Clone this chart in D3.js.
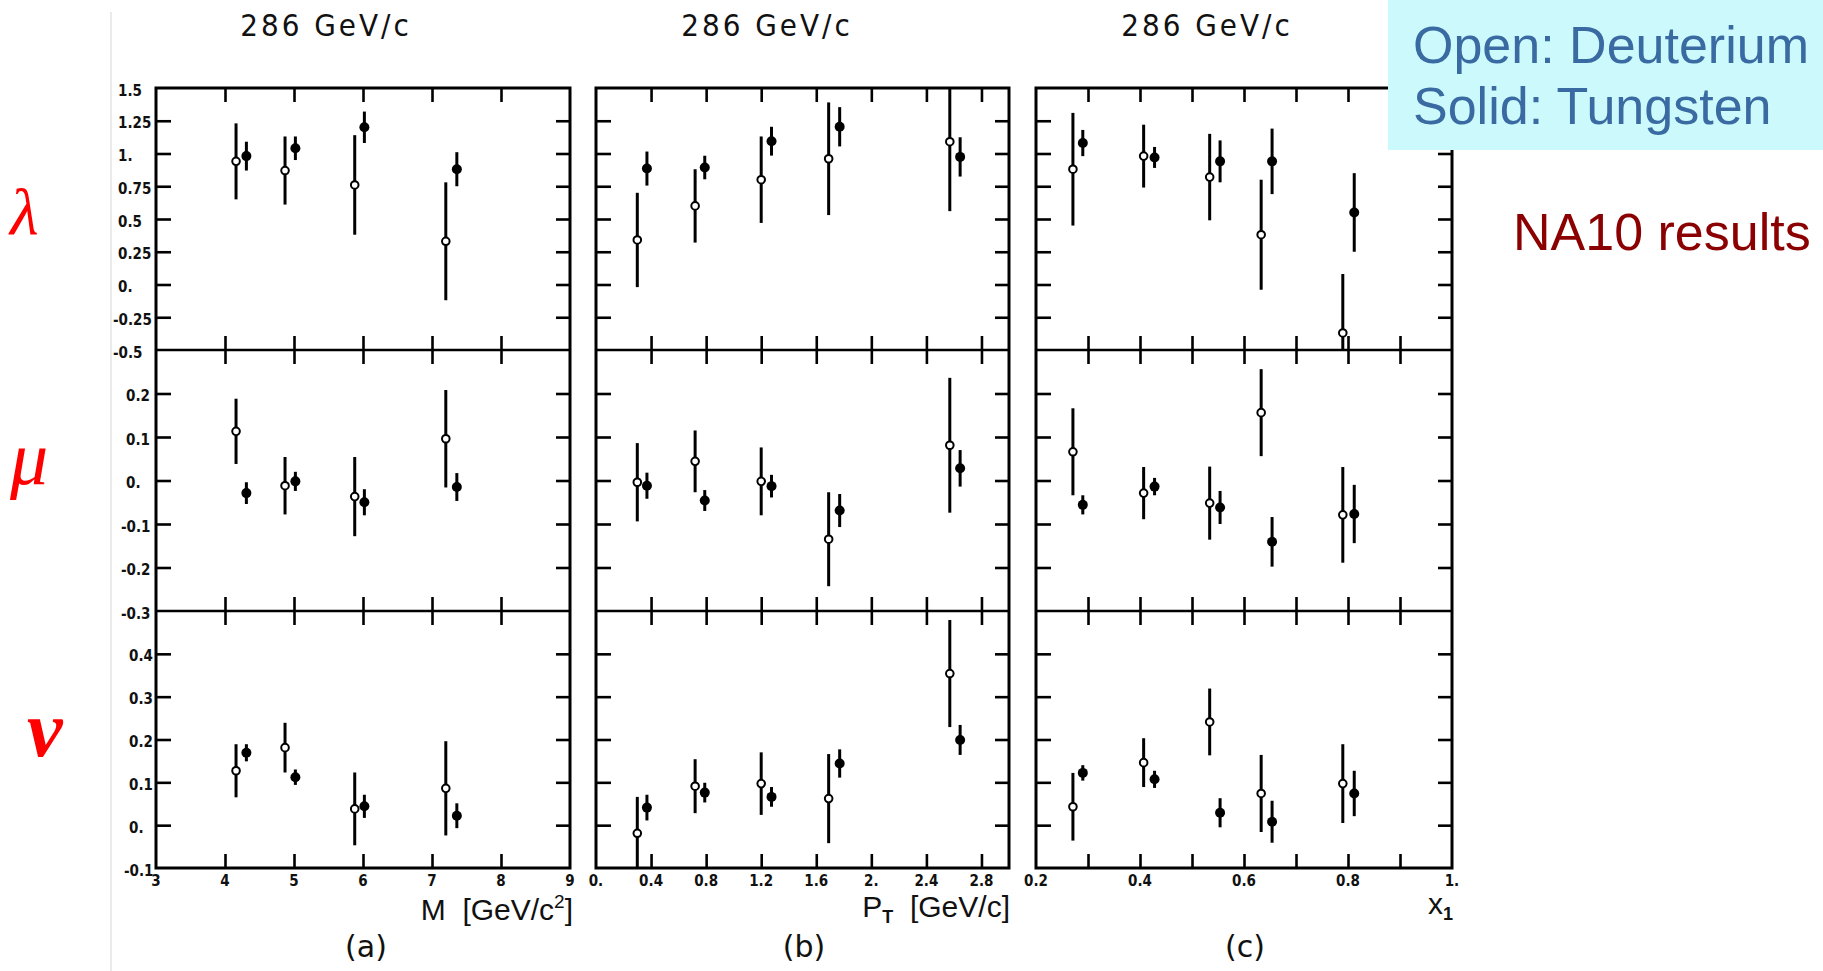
<!DOCTYPE html>
<html>
<head>
<meta charset="utf-8">
<script src="https://cdn.jsdelivr.net/npm/d3@7"></script>
<style>
  html, body { margin: 0; padding: 0; background: #fff; }
  svg { display: block; }
  .tick line { stroke: #000; stroke-width: 2.6; }
  .cond { font-family: "Liberation Sans Narrow", "DejaVu Sans Condensed", "Roboto Condensed", sans-serif; font-stretch: condensed; }
</style>
</head>
<body>
<svg id="chart" width="1823" height="971"></svg>
<script>
// ---------------- DATA ----------------
const panelTitles = ["286 GeV/c", "286 GeV/c", "286 GeV/c"];
const panelLetters = ["(a)", "(b)", "(c)"];
const rowSymbols = ["λ", "μ", "ν"];

// x positions (open = deuterium, solid = tungsten)
const mOpenX  = [4.16, 4.87, 5.88, 7.20];
const mSolidX = [4.31, 5.02, 6.02, 7.36];
const ptOpenX  = [0.30, 0.72, 1.20, 1.69, 2.57];
const ptSolidX = [0.37, 0.79, 1.275, 1.77, 2.645];
const x1OpenX  = [0.271, 0.407, 0.534, 0.633, 0.790];
const x1SolidX = [0.290, 0.428, 0.554, 0.654, 0.812];

// lambda
const lambdaM_D    = [0.94, 0.87, 0.76, 0.33];
const lambdaM_Derr = [0.29, 0.26, 0.38, 0.45];
const lambdaM_W    = [0.98, 1.04, 1.20, 0.88];
const lambdaM_Werr = [0.11, 0.09, 0.12, 0.13];
const lambdaPT_D    = [0.34, 0.60, 0.80, 0.96, 1.09];
const lambdaPT_Derr = [0.36, 0.28, 0.33, 0.43, 0.53];
const lambdaPT_W    = [0.885, 0.893, 1.094, 1.204, 0.974];
const lambdaPT_Werr = [0.13, 0.09, 0.11, 0.15, 0.15];
const lambdaX1_D    = [0.88, 0.98, 0.82, 0.38, -0.37];
const lambdaX1_Derr = [0.43, 0.24, 0.33, 0.42, 0.45];
const lambdaX1_W    = [1.08, 0.97, 0.94, 0.94, 0.55];
const lambdaX1_Werr = [0.10, 0.08, 0.16, 0.25, 0.30];

// mu
const muM_D    = [0.113, -0.012, -0.037, 0.096];
const muM_Derr = [0.075, 0.066, 0.091, 0.112];
const muM_W    = [-0.029, -0.002, -0.050, -0.015];
const muM_Werr = [0.025, 0.022, 0.030, 0.032];
const muPT_D    = [-0.004, 0.044, -0.002, -0.135, 0.081];
const muPT_Derr = [0.090, 0.071, 0.078, 0.108, 0.155];
const muPT_W    = [-0.012, -0.046, -0.013, -0.069, 0.028];
const muPT_Werr = [0.030, 0.024, 0.026, 0.038, 0.042];
const muX1_D    = [0.066, -0.029, -0.052, 0.156, -0.079];
const muX1_Derr = [0.100, 0.060, 0.084, 0.100, 0.110];
const muX1_W    = [-0.056, -0.014, -0.062, -0.141, -0.077];
const muX1_Werr = [0.022, 0.020, 0.038, 0.057, 0.067];

// nu
const nuM_D    = [0.127, 0.181, 0.038, 0.086];
const nuM_Derr = [0.062, 0.058, 0.085, 0.110];
const nuM_W    = [0.169, 0.112, 0.044, 0.022];
const nuM_Werr = [0.020, 0.018, 0.027, 0.029];
const nuPT_D    = [-0.019, 0.091, 0.097, 0.062, 0.354];
const nuPT_Derr = [0.085, 0.063, 0.073, 0.104, 0.125];
const nuPT_W    = [0.041, 0.076, 0.066, 0.144, 0.199];
const nuPT_Werr = [0.030, 0.023, 0.023, 0.033, 0.035];
const nuX1_D    = [0.043, 0.146, 0.241, 0.074, 0.097];
const nuX1_Derr = [0.079, 0.057, 0.078, 0.090, 0.092];
const nuX1_W    = [0.122, 0.107, 0.029, 0.008, 0.074];
const nuX1_Werr = [0.018, 0.020, 0.034, 0.049, 0.053];

// axes
const xDomains = [[3, 9], [0, 3.0], [0.2, 1.0]];
const xTickValues = [[4, 5, 6, 7, 8], [0.4, 0.8, 1.2, 1.6, 2.0, 2.4, 2.8], [0.3, 0.4, 0.5, 0.6, 0.7, 0.8, 0.9]];
const xLabelValues = [[3, 4, 5, 6, 7, 8, 9], [0, 0.4, 0.8, 1.2, 1.6, 2.0, 2.4, 2.8], [0.2, 0.4, 0.6, 0.8, 1.0]];
const xLabelTexts = [["3", "4", "5", "6", "7", "8", "9"], ["0.", "0.4", "0.8", "1.2", "1.6", "2.", "2.4", "2.8"], ["0.2", "0.4", "0.6", "0.8", "1."]];

const yDomains = [[-0.5, 1.5], [-0.3, 0.3], [-0.1, 0.5]];
const yTickValues = [[-0.25, 0, 0.25, 0.5, 0.75, 1.0, 1.25], [-0.2, -0.1, 0, 0.1, 0.2], [0, 0.1, 0.2, 0.3, 0.4]];
const yLabelValues = [[1.5, 1.25, 1.0, 0.75, 0.5, 0.25, 0, -0.25, -0.5], [0.2, 0.1, 0, -0.1, -0.2, -0.3], [0.4, 0.3, 0.2, 0.1, 0, -0.1]];
const yLabelTexts = [["1.5", "1.25", "1.", "0.75", "0.5", "0.25", "0.", "-0.25", "-0.5"], ["0.2", "0.1", "0.", "-0.1", "-0.2", "-0.3"], ["0.4", "0.3", "0.2", "0.1", "0.", "-0.1"]];

const legendLines = ["Open: Deuterium", "Solid: Tungsten"];
const noteText = "NA10 results";

// ---------------- LAYOUT ----------------
const panels = [{ left: 156, right: 570 }, { left: 596, right: 1009 }, { left: 1036, right: 1452 }];
const rows = [{ top: 88, bottom: 350 }, { top: 350, bottom: 611 }, { top: 611, bottom: 868 }];
const yLabelX = [118, 126, 129];

const svg = d3.select("#chart");

// faint scan edge
svg.append("line").attr("x1", 111).attr("x2", 111).attr("y1", 12).attr("y2", 971)
  .attr("stroke", "#e4e4e4").attr("stroke-width", 1.5);

const seriesX = [[mOpenX, mSolidX], [ptOpenX, ptSolidX], [x1OpenX, x1SolidX]];
const seriesY = [
  [[lambdaM_D, lambdaM_Derr, lambdaM_W, lambdaM_Werr], [muM_D, muM_Derr, muM_W, muM_Werr], [nuM_D, nuM_Derr, nuM_W, nuM_Werr]],
  [[lambdaPT_D, lambdaPT_Derr, lambdaPT_W, lambdaPT_Werr], [muPT_D, muPT_Derr, muPT_W, muPT_Werr], [nuPT_D, nuPT_Derr, nuPT_W, nuPT_Werr]],
  [[lambdaX1_D, lambdaX1_Derr, lambdaX1_W, lambdaX1_Werr], [muX1_D, muX1_Derr, muX1_W, muX1_Werr], [nuX1_D, nuX1_Derr, nuX1_W, nuX1_Werr]]
];

panels.forEach((p, pi) => {
  const x = d3.scaleLinear().domain(xDomains[pi]).range([p.left, p.right]);
  const g = svg.append("g");

  rows.forEach((r, ri) => {
    const y = d3.scaleLinear().domain(yDomains[ri]).range([r.bottom, r.top]).clamp(true);
    const cell = g.append("g");

    // ticks (inward)
    cell.append("g").attr("transform", `translate(${p.left},0)`)
      .call(d3.axisLeft(y).tickValues(yTickValues[ri]).tickSize(-15).tickFormat(""))
      .call(s => s.select(".domain").remove());
    cell.append("g").attr("transform", `translate(${p.right},0)`)
      .call(d3.axisRight(y).tickValues(yTickValues[ri]).tickSize(-14).tickFormat(""))
      .call(s => s.select(".domain").remove());
    cell.append("g").attr("transform", `translate(0,${r.top})`)
      .call(d3.axisTop(x).tickValues(xTickValues[pi]).tickSize(-14).tickFormat(""))
      .call(s => s.select(".domain").remove());
    cell.append("g").attr("transform", `translate(0,${r.bottom})`)
      .call(d3.axisBottom(x).tickValues(xTickValues[pi]).tickSize(-14).tickFormat(""))
      .call(s => s.select(".domain").remove());

    // y labels (only first panel)
    if (pi === 0) {
      yLabelValues[ri].forEach((v, k) => {
        const t = yLabelTexts[ri][k];
        cell.append("text").attr("class", "cond")
          .attr("x", t.startsWith("-") ? yLabelX[ri] - 5 : yLabelX[ri])
          .attr("y", y(v) + 3)
          .attr("dominant-baseline", "middle")
          .attr("font-size", 15).attr("font-weight", "bold")
          .attr("fill", "#111")
          .text(t);
      });
    }

    // data
    const [dv, de, wv, we] = seriesY[pi][ri];
    const ox = seriesX[pi][0], sx = seriesX[pi][1];
    const open = ox.map((xv, k) => ({ x: xv, v: dv[k], e: de[k] }));
    const solid = sx.map((xv, k) => ({ x: xv, v: wv[k], e: we[k] }));

    [open, solid].forEach((arr) => {
      cell.selectAll(null).data(arr).enter().append("line")
        .attr("x1", d => x(d.x)).attr("x2", d => x(d.x))
        .attr("y1", d => y(d.v - d.e)).attr("y2", d => y(d.v + d.e))
        .attr("stroke", "#000").attr("stroke-width", 3);
    });
    cell.selectAll(null).data(solid).enter().append("circle")
      .attr("cx", d => x(d.x)).attr("cy", d => y(d.v)).attr("r", 5)
      .attr("fill", "#000");
    cell.selectAll(null).data(open).enter().append("circle")
      .attr("cx", d => x(d.x)).attr("cy", d => y(d.v)).attr("r", 3.8)
      .attr("fill", "#fff").attr("stroke", "#000").attr("stroke-width", 2);
  });

  // frame
  g.append("rect").attr("x", p.left).attr("y", rows[0].top)
    .attr("width", p.right - p.left).attr("height", rows[2].bottom - rows[0].top)
    .attr("fill", "none").attr("stroke", "#000").attr("stroke-width", 3);
  [rows[0].bottom, rows[1].bottom].forEach(yy => {
    g.append("line").attr("x1", p.left).attr("x2", p.right).attr("y1", yy).attr("y2", yy)
      .attr("stroke", "#000").attr("stroke-width", 2.6);
  });

  // x labels
  xLabelValues[pi].forEach((v, k) => {
    g.append("text").attr("class", "cond")
      .attr("x", x(v)).attr("y", 886)
      .attr("text-anchor", "middle")
      .attr("font-size", 15).attr("font-weight", "bold").attr("fill", "#111")
      .text(xLabelTexts[pi][k]);
  });

  // title
  g.append("text").attr("class", "cond")
    .attr("x", [326, 767, 1207][pi]).attr("y", 36)
    .attr("text-anchor", "middle").attr("font-size", 31).attr("fill", "#111")
    .attr("letter-spacing", 3).style("white-space", "pre")
    .text(panelTitles[pi]);

  // letter
  g.append("text")
    .attr("x", [366, 804, 1245][pi]).attr("y", 957)
    .attr("text-anchor", "middle")
    .attr("font-family", "DejaVu Sans, sans-serif").attr("font-size", 30).attr("fill", "#111")
    .text(panelLetters[pi]);
});

// axis titles
const axisFont = "'Liberation Sans', Arial, sans-serif";
const tM = svg.append("text").attr("x", 573).attr("y", 920)
  .attr("text-anchor", "end").attr("font-family", axisFont).attr("font-size", 30).attr("fill", "#111").style("white-space", "pre");
tM.append("tspan").text("M  [GeV/c");
tM.append("tspan").attr("dy", -12).attr("font-size", 19).text("2");
tM.append("tspan").attr("dy", 12).text("]");

const tP = svg.append("text").attr("x", 1010).attr("y", 917)
  .attr("text-anchor", "end").attr("font-family", axisFont).attr("font-size", 30).attr("fill", "#111").style("white-space", "pre");
tP.append("tspan").text("P");
tP.append("tspan").attr("dy", 6).attr("font-size", 18).attr("font-weight", "bold").text("T");
tP.append("tspan").attr("dy", -6).text("  [GeV/c]");

const tX = svg.append("text").attr("x", 1453).attr("y", 914)
  .attr("text-anchor", "end").attr("font-family", axisFont).attr("font-size", 30).attr("fill", "#111");
tX.append("tspan").text("x");
tX.append("tspan").attr("dy", 6).attr("font-size", 18).attr("font-weight", "bold").text("1");

// greek row symbols
const symPos = [{ x: 10, y: 234, s: 66 }, { x: 10, y: 484, s: 76 }, { x: 27, y: 756, s: 80 }];
rowSymbols.forEach((s, i) => {
  svg.append("text").attr("x", symPos[i].x).attr("y", symPos[i].y)
    .attr("font-family", "Liberation Serif, 'DejaVu Serif', serif")
    .attr("font-style", "italic").attr("font-size", symPos[i].s)
    .attr("font-weight", i === 2 ? "bold" : "normal")
    .attr("fill", "#ff0000").text(s);
});

// legend box
svg.append("rect").attr("x", 1388).attr("y", 0).attr("width", 435).attr("height", 150)
  .attr("fill", "#ccf9fb");
legendLines.forEach((t, i) => {
  svg.append("text").attr("x", 1413).attr("y", [63, 124][i])
    .attr("font-family", "Liberation Sans, Arial, sans-serif").attr("font-size", 52)
    .attr("fill", "#3a6aa2").text(t);
});
svg.append("text").attr("x", 1513).attr("y", 250)
  .attr("font-family", "Liberation Sans, Arial, sans-serif").attr("font-size", 52)
  .attr("fill", "#8b0000").text(noteText);
</script>
</body>
</html>
